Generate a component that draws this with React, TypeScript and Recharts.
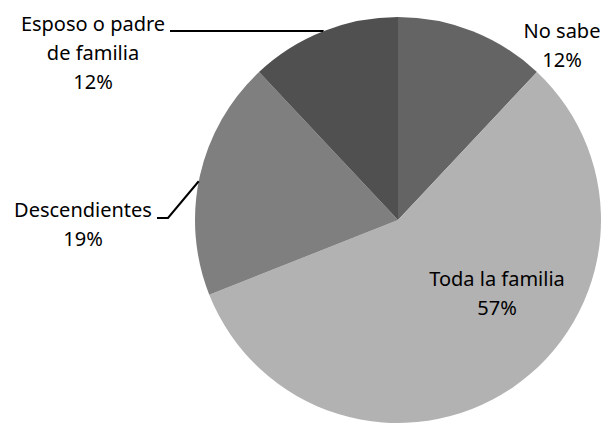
import { PieChart, Pie, Cell } from "recharts";

// Slice data, clockwise from 12 o'clock
const categories = ["No sabe", "Toda la familia", "Descendientes", "Esposo o padre de familia"];
const shares = [12, 57, 19, 12];
const labelLines = [["No sabe"], ["Toda la familia"], ["Descendientes"], ["Esposo o padre", "de familia"]];

const sliceColors = ["#646464", "#b2b2b2", "#7f7f7f", "#505050"];

// label placement relative to the pie centre (text centre x, first baseline y)
const labelLayout = [
  { dx: 164, dy: -182 },
  { dx: 99, dy: 66 },
  { dx: -315, dy: -3, leader: { angle: 169, elbow: [-230, -2], endX: -241 } },
  { dx: -305, dy: -189, leader: { angle: 111.6, elbow: [-75, -189], endX: -228 } },
];

const data = categories.map((name, i) => ({ name, value: shares[i] }));

const LINE_H = 29;
const FONT = "'Noto Sans', sans-serif";

function renderLabel(props: any) {
  const { cx, cy, outerRadius, index, percent } = props;
  const layout = labelLayout[index];
  const x = cx + layout.dx;
  const y = cy + layout.dy;
  const lines = [...labelLines[index], `${Math.round(percent * 100)}%`];

  let leader = null;
  if (layout.leader) {
    const rad = (layout.leader.angle * Math.PI) / 180;
    const sx = cx + outerRadius * Math.cos(rad);
    const sy = cy - outerRadius * Math.sin(rad);
    const ex = cx + layout.leader.elbow[0];
    const ey = cy + layout.leader.elbow[1];
    const fx = cx + layout.leader.endX;
    leader = (
      <polyline
        points={`${sx},${sy} ${ex},${ey} ${fx},${ey}`}
        fill="none"
        stroke="#000"
        strokeWidth={2}
      />
    );
  }

  return (
    <g key={`label-${index}`}>
      {leader}
      {lines.map((t, i) => (
        <text
          key={i}
          x={x}
          y={y + i * LINE_H}
          textAnchor="middle"
          fill="#000"
          fontSize={20}
          fontFamily={FONT}
        >
          {t}
        </text>
      ))}
    </g>
  );
}

export default function App() {
  return (
    <div style={{ position: "absolute", left: 0, top: 0, width: 603, height: 423, background: "#fff" }}>
      <PieChart width={603} height={423} margin={{ top: 0, right: 0, bottom: 0, left: 0 }}>
        <Pie
          data={data}
          dataKey="value"
          nameKey="name"
          cx={398}
          cy={220}
          outerRadius={203}
          startAngle={90}
          endAngle={-270}
          stroke="none"
          label={renderLabel}
          labelLine={false}
          isAnimationActive={false}
        >
          {data.map((d, i) => (
            <Cell key={d.name} fill={sliceColors[i]} />
          ))}
        </Pie>
      </PieChart>
    </div>
  );
}
